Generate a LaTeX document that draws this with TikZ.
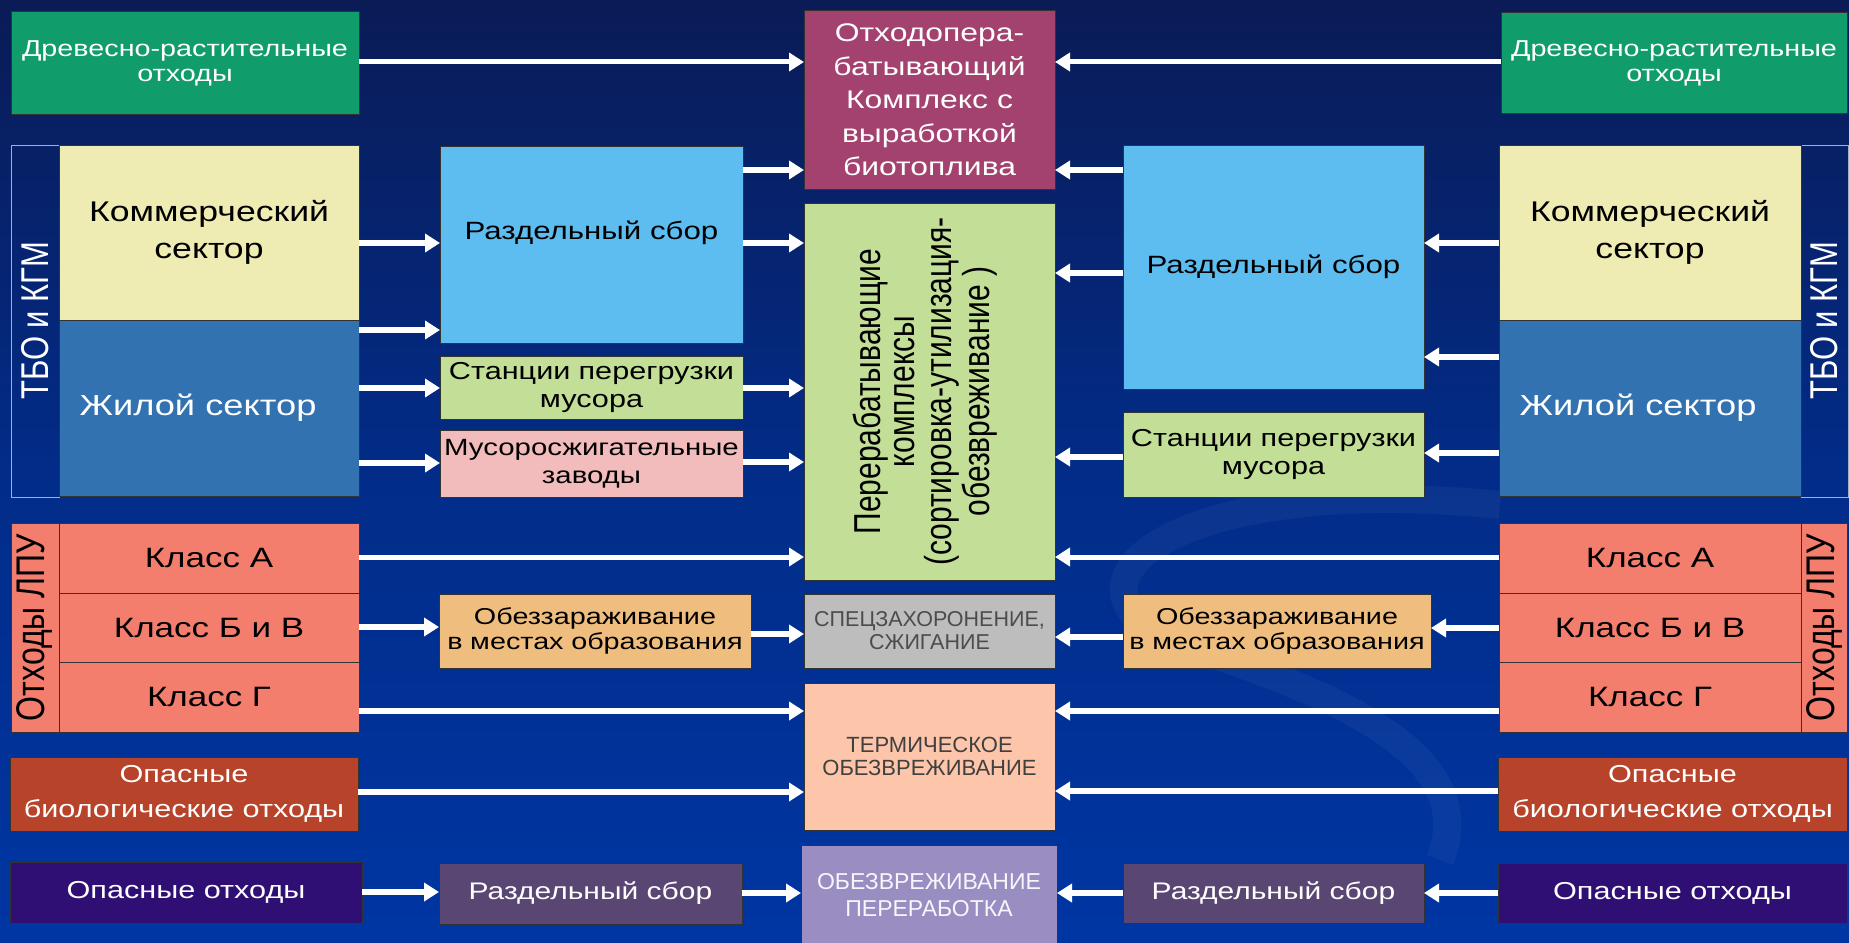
\documentclass[tikz,border=0pt]{standalone}
\usepackage{fontspec}
\usepackage{graphicx}
\setmainfont{Liberation Sans}[FakeStretch=1.25]
\newfontfamily\plainfont{Liberation Sans}
\usetikzlibrary{arrows.meta}
\definecolor{bgTop}{HTML}{0A1B56}
\definecolor{bgMid}{HTML}{022C88}
\definecolor{bgBot}{HTML}{0036A3}
\definecolor{cDrev}{HTML}{119C6B}
\definecolor{cKom}{HTML}{EEEBB3}
\definecolor{cZhil}{HTML}{3272B0}
\definecolor{cRazd}{HTML}{5EBDF0}
\definecolor{cGreen}{HTML}{C3DE97}
\definecolor{cPink}{HTML}{F1BCBB}
\definecolor{cPlum}{HTML}{A3426E}
\definecolor{cSalmon}{HTML}{F47E6E}
\definecolor{cTan}{HTML}{EFBE7F}
\definecolor{cGrey}{HTML}{BDBDBD}
\definecolor{cPeach}{HTML}{FDC5A9}
\definecolor{cRust}{HTML}{B7432A}
\definecolor{cDeep}{HTML}{2F0F73}
\definecolor{cMauve}{HTML}{5A4673}
\definecolor{cLav}{HTML}{9A8DC2}
\definecolor{cFrame}{HTML}{A8ADC8}
\newcommand\fs[2]{\fontsize{#1}{#2}\selectfont}
\begin{document}
\begin{tikzpicture}[x=1pt,y=-1pt,
  box/.style={draw=black!80, line width=1pt, inner sep=0pt, outer sep=0pt, align=center, text=black},
  frame/.style={draw=cFrame, line width=1pt, inner sep=0pt, outer sep=0pt},
  arr/.style={draw=white, line width=6.5pt, -{Triangle[length=15pt,width=18pt]}},
  arrthin/.style={arr, line width=5pt},
  rot/.style={rotate=90, inner sep=0pt, outer sep=0pt}]
\useasboundingbox (0,0) rectangle (1849,942);
\shade[top color=bgTop, bottom color=bgBot, middle color=bgMid] (0,0) rectangle (1849,942);
\draw[white, opacity=0.04, line width=28pt] (1500,505) .. controls (1150,470) and (1030,600) .. (1200,650) .. controls (1350,700) and (1480,760) .. (1440,860);

% ---------- left column ----------
\node[box, fill=cDrev, text=white, minimum width=348, minimum height=102, font=\fs{23}{25}] (drevL) at (185,63) {Древесно-растительные\\отходы};
\node[frame, minimum width=48, minimum height=352] (tboL) at (35,321) {};
\node[rot, text=white] at (tboL.center) {\scalebox{1}[1.25]{\plainfont\fs{31}{31}ТБО и КГМ}};
\node[box, fill=cKom, minimum width=300, minimum height=175, font=\fs{28.5}{37}] (komL) at (209,232.5) {Коммерческий\\сектор};
\node[box, fill=cZhil, text=white, minimum width=300, minimum height=176, font=\fs{29}{34}] (zhilL) at (209,408) {\hspace*{-22pt}Жилой сектор};
\node[box, fill=cSalmon, minimum width=48, minimum height=209] (lpuL) at (35,627.5) {};
\node[rot] at (lpuL.center) {\scalebox{1}[1.25]{\plainfont\fs{32}{32}Отходы ЛПУ}};
\node[box, fill=cSalmon, minimum width=300, minimum height=70, font=\fs{28}{32}] (klAL) at (209,558) {Класс А};
\node[box, fill=cSalmon, minimum width=300, minimum height=69, font=\fs{28}{32}] (klBL) at (209,627.5) {Класс Б и В};
\node[box, fill=cSalmon, minimum width=300, minimum height=70, font=\fs{28}{32}] (klGL) at (209,697) {Класс Г};
\node[box, fill=cRust, text=white, minimum width=348, minimum height=74, font=\fs{24.5}{35}] (bioL) at (184,794) {Опасные\\биологические отходы};
\node[box, fill=cDeep, text=white, minimum width=352, minimum height=61, font=\fs{24.5}{30}] (opL) at (186,892.5) {Опасные отходы};

% ---------- left middle column ----------
\node[box, fill=cRazd, minimum width=303, minimum height=197] (razdL) at (591.5,244.5) {};
\node[font=\fs{25}{30}, inner sep=0pt] at ([yshift=12pt]razdL.center) {Раздельный сбор};
\node[box, fill=cGreen, minimum width=303, minimum height=63, text width=300, font=\fs{24.5}{28}] (stL) at (591.5,387.5) {Станции перегрузки\\мусора};
\node[box, fill=cPink, minimum width=303, minimum height=67, text width=300, font=\fs{23.5}{28}] (musL) at (591.5,463.5) {Мусоросжигательные\\заводы};
\node[box, fill=cTan, minimum width=312, minimum height=74, text width=308, font=\fs{23}{25.5}] (obzL) at (595,631) {Обеззараживание\\в местах образования};
\node[box, fill=cMauve, text=white, minimum width=303, minimum height=61, font=\fs{24}{30}] (rzbL) at (590.5,893.5) {Раздельный сбор};

% ---------- centre column ----------
\node[box, fill=cPlum, text=white, minimum width=251, minimum height=178, font=\fs{25.5}{33.5}] (othod) at (929.5,100) {Отходопера-\\батывающий\\Комплекс с\\выработкой\\биотоплива};
\node[box, fill=cGreen, minimum width=251, minimum height=377] (perer) at (929.5,391.5) {};
\node[rot] at ([xshift=-3pt]perer.center) {\scalebox{1}[1.25]{\plainfont\fs{30}{27}\begin{tabular}{@{}c@{}}Перерабатывающие\\комплексы\\(сортировка-утилизация-\\обезвреживание )\end{tabular}}};
\node[box, fill=cGrey, text=black!70, minimum width=251, minimum height=74, font=\plainfont\fs{21.5}{23}] (spec) at (929.5,631) {СПЕЦЗАХОРОНЕНИЕ,\\СЖИГАНИЕ};
\node[box, fill=cPeach, text=black!75, minimum width=251, minimum height=147, font=\plainfont\fs{22}{23}] (term) at (929.5,756.5) {ТЕРМИЧЕСКОЕ\\ОБЕЗВРЕЖИВАНИЕ};
\node[box, fill=cLav, text=white!92!cLav, minimum width=256, minimum height=101, font=\plainfont\fs{23}{27}] (obzv) at (929,895.5) {ОБЕЗВРЕЖИВАНИЕ\\ПЕРЕРАБОТКА};

% ---------- right middle column ----------
\node[box, fill=cRazd, minimum width=301, minimum height=244, font=\fs{25}{30}] (razdR) at (1273.5,267) {Раздельный сбор};
\node[box, fill=cGreen, minimum width=301, minimum height=85, text width=298, font=\fs{24.5}{28}] (stR) at (1273.5,454.5) {Станции перегрузки\\мусора};
\node[box, fill=cTan, minimum width=308, minimum height=74, text width=304, font=\fs{23}{25.5}] (obzR) at (1277,631) {Обеззараживание\\в местах образования};
\node[box, fill=cMauve, text=white, minimum width=301, minimum height=60, font=\fs{24}{30}] (rzbR) at (1273.5,893) {Раздельный сбор};

% ---------- right column ----------
\node[box, fill=cDrev, text=white, minimum width=346, minimum height=100, font=\fs{23}{25}] (drevR) at (1674,63) {Древесно-растительные\\отходы};
\node[frame, minimum width=47, minimum height=352] (tboR) at (1824.5,321) {};
\node[rot, text=white] at (tboR.center) {\scalebox{1}[1.25]{\plainfont\fs{31}{31}ТБО и КГМ}};
\node[box, fill=cKom, minimum width=302, minimum height=175, font=\fs{28.5}{37}] (komR) at (1650,232.5) {Коммерческий\\сектор};
\node[box, fill=cZhil, text=white, minimum width=302, minimum height=176, font=\fs{29}{34}] (zhilR) at (1650,408) {\hspace*{-24pt}Жилой сектор};
\node[box, fill=cSalmon, minimum width=46, minimum height=209] (lpuR) at (1824,627.5) {};
\node[rot] at (lpuR.center) {\scalebox{1}[1.25]{\plainfont\fs{32}{32}Отходы ЛПУ}};
\node[box, fill=cSalmon, minimum width=302, minimum height=70, font=\fs{28}{32}] (klAR) at (1650,558) {Класс А};
\node[box, fill=cSalmon, minimum width=302, minimum height=69, font=\fs{28}{32}] (klBR) at (1650,627.5) {Класс Б и В};
\node[box, fill=cSalmon, minimum width=302, minimum height=70, font=\fs{28}{32}] (klGR) at (1650,697) {Класс Г};
\node[box, fill=cRust, text=white, minimum width=349, minimum height=74, font=\fs{24.5}{35}] (bioR) at (1672.5,794) {Опасные\\биологические отходы};
\node[box, fill=cDeep, text=white, minimum width=349, minimum height=60, font=\fs{24.5}{30}] (opR) at (1672.5,893) {Опасные отходы};

% ---------- arrows, left ----------
\draw[arrthin] (drevL.east |- 0,62) -- (othod.west |- 0,62);
\draw[arr] (komL.east |- 0,243) -- (razdL.west |- 0,243);
\draw[arr] (zhilL.east |- 0,330) -- (razdL.west |- 0,330);
\draw[arr] (zhilL.east |- 0,388) -- (stL.west |- 0,388);
\draw[arr] (zhilL.east |- 0,463) -- (musL.west |- 0,463);
\draw[arr] (razdL.east |- 0,170) -- (othod.west |- 0,170);
\draw[arr] (razdL.east |- 0,243) -- (perer.west |- 0,243);
\draw[arr] (stL.east |- 0,388) -- (perer.west |- 0,388);
\draw[arr] (musL.east |- 0,462) -- (perer.west |- 0,462);
\draw[arrthin] (klAL.east |- 0,557) -- (perer.west |- 0,557);
\draw[arr] (klBL.east |- 0,627) -- (obzL.west |- 0,627);
\draw[arr] (obzL.east |- 0,634) -- (spec.west |- 0,634);
\draw[arr] (klGL.east |- 0,711) -- (term.west |- 0,711);
\draw[arr] (bioL.east |- 0,792) -- (term.west |- 0,792);
\draw[arr] (opL.east |- 0,892) -- (rzbL.west |- 0,892);
\draw[arr] (rzbL.east |- 0,893) -- (obzv.west |- 0,893);

% ---------- arrows, right ----------
\draw[arrthin] (drevR.west |- 0,62) -- (othod.east |- 0,62);
\draw[arr] (razdR.west |- 0,170) -- (othod.east |- 0,170);
\draw[arr] (razdR.west |- 0,273) -- (perer.east |- 0,273);
\draw[arr] (komR.west |- 0,243) -- (razdR.east |- 0,243);
\draw[arr] (zhilR.west |- 0,357) -- (razdR.east |- 0,357);
\draw[arr] (zhilR.west |- 0,453) -- (stR.east |- 0,453);
\draw[arr] (stR.west |- 0,457) -- (perer.east |- 0,457);
\draw[arrthin] (klAR.west |- 0,557) -- (perer.east |- 0,557);
\draw[arr] (klBR.west |- 0,628) -- (obzR.east |- 0,628);
\draw[arr] (obzR.west |- 0,637) -- (spec.east |- 0,637);
\draw[arr] (klGR.west |- 0,711) -- (term.east |- 0,711);
\draw[arr] (bioR.west |- 0,791) -- (term.east |- 0,791);
\draw[arr] (opR.west |- 0,893) -- (rzbR.east |- 0,893);
\draw[arr] (rzbR.west |- 0,893) -- (obzv.east |- 0,893);
\end{tikzpicture}
\end{document}
